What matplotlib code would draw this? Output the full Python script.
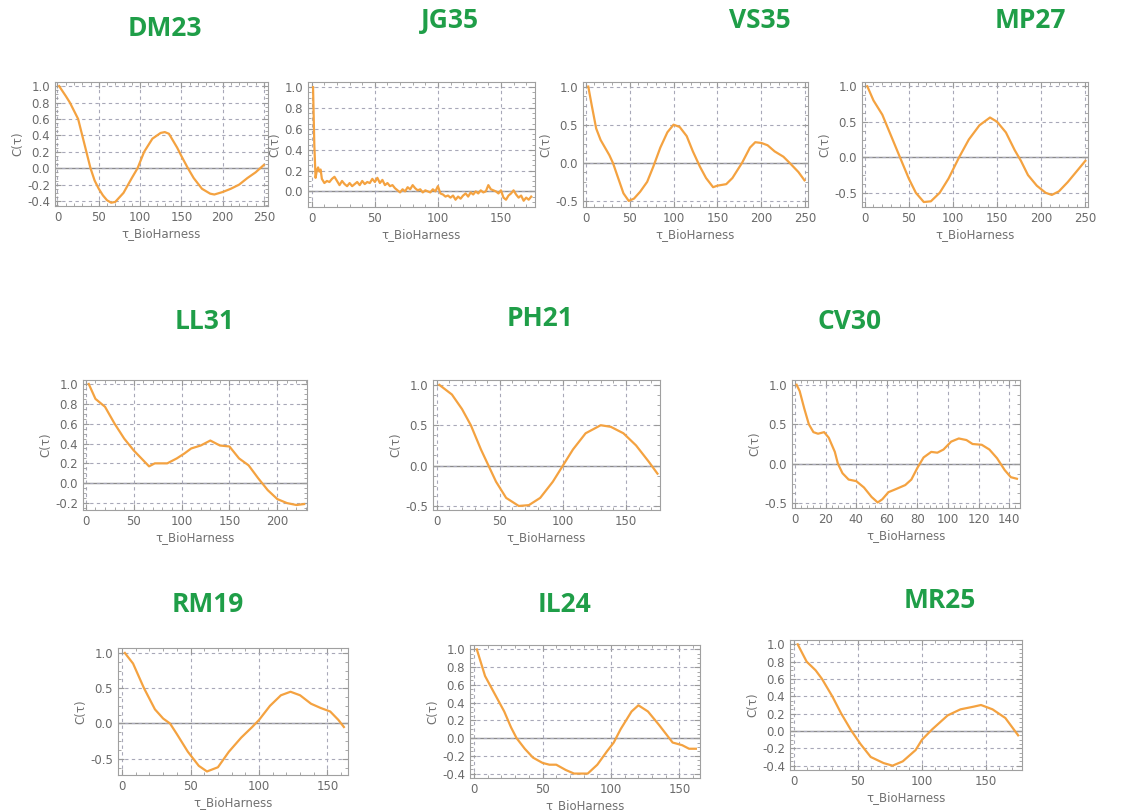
import matplotlib
matplotlib.use("Agg")
import matplotlib.pyplot as plt
import numpy as np

W, H = 1125, 810

# ---- data (lag, C(tau)) ----
dm23_x = [2, 10, 15, 20, 25, 30, 35, 40, 45, 50, 55, 60, 65, 70, 80, 90, 97, 105, 115, 125, 130, 135, 145, 150, 158, 165, 175, 185, 190, 200, 210, 220, 230, 240, 250]
dm23_y = [1.0, 0.88, 0.8, 0.7, 0.6, 0.4, 0.2, 0.0, -0.15, -0.25, -0.33, -0.39, -0.42, -0.41, -0.3, -0.12, 0.0, 0.2, 0.36, 0.43, 0.44, 0.42, 0.25, 0.15, 0.0, -0.12, -0.25, -0.31, -0.32, -0.29, -0.25, -0.2, -0.12, -0.05, 0.04]

jg35_x = [1, 2, 3, 4, 5, 6, 7, 8, 10, 12, 14, 16, 18, 20, 22, 24, 26, 28, 30, 32, 34, 36, 38, 40, 42, 44, 46, 48, 50,
          52, 54, 56, 58, 60, 62, 64, 66, 68, 70, 72, 74, 76, 78, 80, 82, 84, 86, 88, 90, 92, 94, 96, 98, 100,
          102, 104, 106, 108, 110, 112, 114, 116, 118, 120, 122, 124, 126, 128, 130, 132, 134, 136, 138, 140,
          142, 144, 146, 148, 150, 152, 154, 156, 158, 160, 162, 164, 166, 168, 170, 172, 174]
jg35_y = [1.0, 0.45, 0.13, 0.2, 0.23, 0.19, 0.21, 0.12, 0.08, 0.1, 0.09, 0.12, 0.14, 0.1, 0.06, 0.1, 0.07, 0.05, 0.08, 0.05, 0.07, 0.09, 0.06, 0.1, 0.07, 0.09, 0.08, 0.12, 0.09,
          0.13, 0.08, 0.11, 0.06, 0.08, 0.05, 0.06, 0.03, 0.01, -0.01, 0.02, 0.0, 0.04, 0.02, 0.06, 0.03, 0.01, 0.02, -0.01, 0.01, 0.0, -0.01, 0.02, 0.0, 0.05,
          -0.02, -0.03, -0.05, -0.04, -0.06, -0.04, -0.08, -0.05, -0.07, -0.04, -0.02, -0.05, -0.01, -0.03, 0.0, -0.02, 0.01, -0.01, 0.0, 0.06,
          0.02, 0.01, 0.0, -0.02, 0.01, -0.06, -0.08, -0.04, -0.02, 0.01, -0.03, -0.06, -0.04, -0.09, -0.06, -0.08, -0.05]

vs35_x = [3, 7, 12, 17, 22, 27, 31, 37, 43, 49, 55, 62, 70, 77, 85, 93, 100, 107, 115, 122, 130, 137, 145, 150, 160, 167, 178, 187, 193, 200, 207, 215, 225, 232, 242, 249]
vs35_y = [1.0, 0.75, 0.45, 0.3, 0.2, 0.1, 0.0, -0.2, -0.4, -0.5, -0.47, -0.38, -0.25, -0.05, 0.2, 0.4, 0.5, 0.47, 0.35, 0.15, -0.05, -0.2, -0.32, -0.3, -0.28, -0.2, 0.0, 0.2, 0.27, 0.26, 0.23, 0.15, 0.08, 0.0, -0.12, -0.23]

mp27_x = [3, 10, 20, 30, 40, 50, 58, 67, 75, 85, 95, 107, 118, 130, 142, 150, 160, 170, 177, 185, 195, 205, 212, 220, 230, 240, 250]
mp27_y = [1.0, 0.8, 0.6, 0.3, 0.0, -0.3, -0.5, -0.63, -0.62, -0.5, -0.3, 0.0, 0.25, 0.45, 0.56, 0.5, 0.35, 0.1, -0.05, -0.25, -0.4, -0.5, -0.53, -0.48, -0.35, -0.2, -0.05]

ll31_x = [3, 10, 20, 30, 40, 50, 58, 66, 72, 85, 95, 103, 110, 120, 130, 140, 150, 160, 170, 180, 190, 200, 210, 220, 228]
ll31_y = [1.0, 0.85, 0.77, 0.6, 0.45, 0.33, 0.25, 0.17, 0.2, 0.2, 0.25, 0.3, 0.35, 0.38, 0.43, 0.38, 0.37, 0.25, 0.18, 0.05, -0.07, -0.16, -0.2, -0.22, -0.21]

ph21_x = [2, 12, 20, 27, 35, 41, 47, 55, 65, 73, 82, 92, 100, 108, 118, 130, 138, 148, 158, 168, 175]
ph21_y = [1.0, 0.88, 0.7, 0.5, 0.2, 0.0, -0.2, -0.4, -0.5, -0.49, -0.4, -0.2, 0.0, 0.2, 0.4, 0.5, 0.48, 0.4, 0.25, 0.05, -0.1]

cv30_x = [1, 3, 6, 9, 12, 15, 19, 22, 26, 28, 31, 35, 40, 45, 50, 54, 57, 61, 66, 72, 76, 80, 84, 89, 93, 97, 102, 107, 112, 116, 122, 127, 132, 137, 141, 145]
cv30_y = [1.0, 0.92, 0.7, 0.5, 0.4, 0.38, 0.4, 0.33, 0.15, 0.0, -0.12, -0.2, -0.22, -0.3, -0.42, -0.49, -0.45, -0.36, -0.32, -0.27, -0.2, -0.05, 0.08, 0.15, 0.14, 0.18, 0.28, 0.32, 0.3, 0.25, 0.24, 0.18, 0.07, -0.08, -0.17, -0.19]

rm19_x = [2, 8, 16, 24, 30, 35, 40, 48, 56, 62, 70, 78, 87, 95, 100, 108, 116, 123, 130, 138, 145, 152, 158, 162]
rm19_y = [1.0, 0.85, 0.5, 0.2, 0.07, 0.0, -0.15, -0.4, -0.6, -0.68, -0.62, -0.4, -0.2, -0.05, 0.05, 0.25, 0.4, 0.45, 0.4, 0.28, 0.22, 0.17, 0.05, -0.05]

il24_x = [2, 8, 15, 22, 27, 31, 37, 43, 50, 55, 60, 67, 73, 83, 90, 97, 102, 107, 115, 120, 127, 135, 140, 145, 152, 157, 162]
il24_y = [1.0, 0.7, 0.5, 0.3, 0.12, 0.0, -0.12, -0.22, -0.28, -0.3, -0.3, -0.36, -0.4, -0.4, -0.3, -0.15, -0.05, 0.1, 0.3, 0.37, 0.3, 0.15, 0.05, -0.05, -0.08, -0.12, -0.12]

mr25_x = [3, 10, 17, 22, 30, 37, 45, 52, 60, 70, 77, 85, 95, 100, 108, 120, 130, 140, 146, 155, 165, 175]
mr25_y = [1.0, 0.8, 0.7, 0.6, 0.4, 0.2, 0.0, -0.15, -0.3, -0.37, -0.4, -0.35, -0.22, -0.1, 0.02, 0.18, 0.25, 0.28, 0.3, 0.25, 0.15, -0.05]

names = ["DM23", "JG35", "VS35", "MP27", "LL31", "PH21", "CV30", "RM19", "IL24", "MR25"]
series = [(dm23_x, dm23_y), (jg35_x, jg35_y), (vs35_x, vs35_y), (mp27_x, mp27_y),
          (ll31_x, ll31_y), (ph21_x, ph21_y), (cv30_x, cv30_y),
          (rm19_x, rm19_y), (il24_x, il24_y), (mr25_x, mr25_y)]

# ---- layout (pixels: left, top, right, bottom), title centre, axis ranges ----
boxes = [(55, 82, 268, 206), (308, 82, 535, 207), (583, 82, 808, 207), (862, 82, 1088, 207),
         (83, 380, 307, 510), (433, 380, 660, 510), (792, 380, 1020, 508),
         (118, 648, 348, 775), (470, 645, 700, 778), (790, 640, 1022, 770)]
title_pos = [(165, 28), (450, 20), (760, 20), (1030, 20),
             (205, 322), (540, 318), (850, 322),
             (208, 605), (565, 605), (940, 600)]
xlims = [(-3, 255), (-3, 177), (-3, 253), (-3, 253), (-3, 231), (-3, 177), (-2, 147), (-3, 165), (-3, 165), (-3, 178)]
xticks = [range(0, 251, 50), range(0, 151, 50), range(0, 251, 50), range(0, 251, 50), range(0, 201, 50),
          range(0, 151, 50), range(0, 141, 20), range(0, 151, 50), range(0, 151, 50), range(0, 151, 50)]
ylims = [(-0.46, 1.05), (-0.15, 1.05), (-0.58, 1.06), (-0.7, 1.06), (-0.27, 1.04), (-0.55, 1.06),
         (-0.56, 1.06), (-0.73, 1.07), (-0.45, 1.05), (-0.45, 1.05)]
yticks = [np.arange(-0.4, 1.01, 0.2), np.arange(0, 1.01, 0.2), [-0.5, 0, 0.5, 1.0], [-0.5, 0, 0.5, 1.0],
          np.arange(-0.2, 1.01, 0.2), [-0.5, 0, 0.5, 1.0], [-0.5, 0, 0.5, 1.0], [-0.5, 0, 0.5, 1.0],
          np.arange(-0.4, 1.01, 0.2), np.arange(-0.4, 1.01, 0.2)]

fig = plt.figure(figsize=(W / 100, H / 100), dpi=100)
fig.patch.set_facecolor("white")

for i in range(len(names)):
    l, t, r, b = boxes[i]
    ax = fig.add_axes([l / W, 1 - b / H, (r - l) / W, (b - t) / H])
    x, y = series[i]
    ax.axhline(0, color="#8a8a8a", lw=1.0, zorder=1)
    ax.plot(x, y, color="#f4a240", lw=1.6, zorder=3)
    ax.set_xlim(*xlims[i])
    ax.set_ylim(*ylims[i])
    ax.set_xticks(list(xticks[i]))
    ax.set_yticks(yticks[i])
    ax.yaxis.set_major_formatter(matplotlib.ticker.FormatStrFormatter("%.1f"))
    ax.xaxis.set_minor_locator(matplotlib.ticker.AutoMinorLocator(5))
    ax.yaxis.set_minor_locator(matplotlib.ticker.AutoMinorLocator(4))
    ax.grid(True, which="major", color="#a8a8b8", ls=(0, (3, 3)), lw=0.8)
    ax.tick_params(which="both", direction="in", top=True, right=True, colors="#9a9a9a",
                   labelcolor="#6a6a6a", labelsize=8.5)
    ax.tick_params(which="major", length=4)
    ax.tick_params(which="minor", length=2)
    for s in ax.spines.values():
        s.set_color("#a0a0a0")
    ax.set_xlabel("τ_BioHarness", fontsize=8.5, color="#707070", labelpad=2)
    ax.set_ylabel("C(τ)", fontsize=8.5, color="#707070", labelpad=2)
    tx, ty = title_pos[i]
    fig.text(tx / W, 1 - ty / H, names[i], ha="center", va="center", fontsize=19,
             fontweight="bold", color="#1f9e48", family="Open Sans")

fig.savefig("out.png", dpi=100)
